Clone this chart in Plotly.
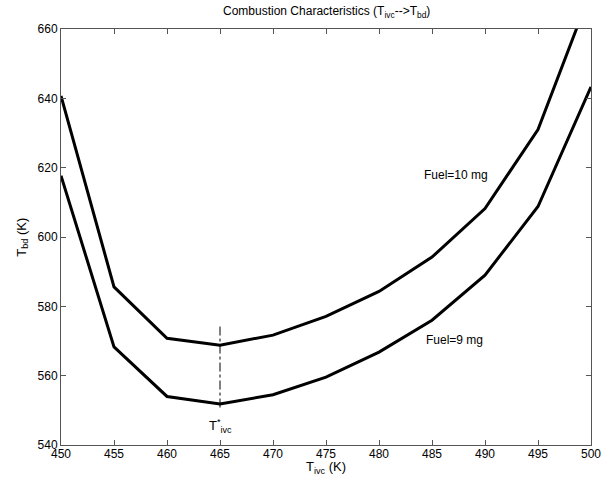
import plotly.graph_objects as go

t_ivc = [450, 455, 460, 465, 470, 475, 480, 485, 490, 495, 500]
tbd_fuel10 = [640.7, 585.6, 570.8, 568.8, 571.7, 577.1, 584.3, 594.2, 608.2, 631.0, 671.0]
tbd_fuel9 = [617.7, 568.3, 554.0, 551.8, 554.5, 559.6, 566.8, 576.0, 589.0, 608.8, 643.3]
t_star_x = [465, 465]
t_star_y = [550.8, 574.2]

font = "Liberation Sans, Arial, sans-serif"
fig = go.Figure()
fig.add_trace(go.Scatter(x=t_ivc, y=tbd_fuel10, mode="lines",
                         line=dict(color="black", width=3), showlegend=False))
fig.add_trace(go.Scatter(x=t_ivc, y=tbd_fuel9, mode="lines",
                         line=dict(color="black", width=3), showlegend=False))
fig.add_trace(go.Scatter(x=t_star_x, y=t_star_y, mode="lines",
                         line=dict(color="black", width=1, dash="dashdot"), showlegend=False))

fig.add_annotation(x=487.3, y=617.9, text="Fuel=10 mg", showarrow=False,
                   font=dict(family=font, size=12, color="black"))
fig.add_annotation(x=487.1, y=570.4, text="Fuel=9 mg", showarrow=False,
                   font=dict(family=font, size=12, color="black"))
fig.add_annotation(x=465, y=545.6, text="T<sup>*</sup><sub>ivc</sub>", showarrow=False,
                   font=dict(family=font, size=13, color="black"))

# axis titles and chart title
fig.add_annotation(xref="paper", yref="paper", x=0.5, y=-0.055, yanchor="middle",
                   text="T<sub>ivc</sub> (K)", showarrow=False,
                   font=dict(family=font, size=13, color="black"))
fig.add_annotation(xref="paper", yref="paper", x=-0.074, y=0.5, xanchor="center",
                   text="T<sub>bd</sub> (K)", textangle=-90, showarrow=False,
                   font=dict(family=font, size=13, color="black"))
fig.add_annotation(xref="paper", yref="paper", x=0.5, y=1.041, yanchor="middle",
                   text="Combustion Characteristics (T<sub>ivc</sub>-->T<sub>bd</sub>)",
                   showarrow=False, font=dict(family=font, size=12, color="black"))

axis_common = dict(showline=True, linecolor="#555", linewidth=1, mirror="ticks",
                   ticks="inside", ticklen=5, tickcolor="#555", showgrid=False,
                   zeroline=False, tickfont=dict(family=font, size=12, color="black"))
fig.update_xaxes(range=[450, 500], tickvals=list(range(450, 501, 5)),
                 ticklabelstandoff=-2, **axis_common)
fig.update_yaxes(range=[540, 660], tickvals=list(range(540, 661, 20)), **axis_common)
fig.update_layout(
    width=616, height=483,
    margin=dict(l=61, r=25, t=29, b=38, autoexpand=False),
    plot_bgcolor="white", paper_bgcolor="white",
)
fig.write_html("out.html", config={"displayModeBar": False},
               post_script="document.body.style.margin='0';")
